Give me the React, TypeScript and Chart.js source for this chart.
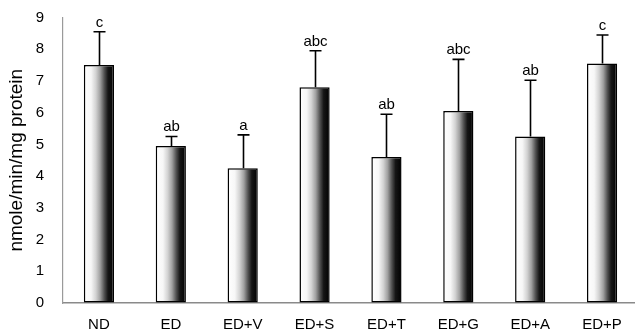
import React, { useEffect, useRef } from "react";
import { Chart, registerables } from "chart.js";

Chart.register(...registerables);

const categories = ["ND", "ED", "ED+V", "ED+S", "ED+T", "ED+G", "ED+A", "ED+P"];
const means = [7.5, 4.95, 4.25, 6.8, 4.6, 6.05, 5.25, 7.55];
const errorTops = [8.55, 5.25, 5.3, 7.95, 5.95, 7.68, 7.02, 8.45];
const groupLetters = ["c", "ab", "a", "abc", "ab", "abc", "ab", "c"];
const yTicks = [0, 1, 2, 3, 4, 5, 6, 7, 8, 9];

const FONT = "'Liberation Sans', Arial, Helvetica, sans-serif";
const BAR_FRACTION = 0.42;

// Upper error whiskers and the significance letters above them
const whiskerPlugin = {
  id: "whiskers",
  afterDatasetsDraw(chart: any) {
    const { ctx, scales } = chart;
    const meta = chart.getDatasetMeta(0);
    ctx.save();
    ctx.strokeStyle = "#000";
    ctx.fillStyle = "#000";
    ctx.lineWidth = 1.6;
    ctx.font = `15px ${FONT}`;
    ctx.textAlign = "center";
    ctx.textBaseline = "alphabetic";
    meta.data.forEach((bar: any, i: number) => {
      const x = Math.round(bar.x) + 0.5;
      const yBar = scales.y.getPixelForValue(means[i]);
      const yTop = scales.y.getPixelForValue(errorTops[i]);
      ctx.beginPath();
      ctx.moveTo(x, yBar);
      ctx.lineTo(x, yTop);
      ctx.moveTo(x - 6, yTop);
      ctx.lineTo(x + 6, yTop);
      ctx.stroke();
      ctx.fillText(groupLetters[i], x, yTop - 5);
    });
    ctx.restore();
  },
};

// Horizontal white-to-black shading across each bar
function barFill(context: any) {
  const chart = context.chart;
  const xScale = chart.scales?.x;
  if (!xScale || context.dataIndex === undefined) return "#888";
  const cx = xScale.getPixelForValue(context.dataIndex);
  const half = (xScale.width / categories.length) * BAR_FRACTION / 2;
  if (!Number.isFinite(cx) || !Number.isFinite(half) || half <= 0) return "#888";
  const g = chart.ctx.createLinearGradient(cx - half, 0, cx + half, 0);
  g.addColorStop(0, "#ffffff");
  g.addColorStop(0.24, "#f7f7f7");
  g.addColorStop(0.4, "#d2d2d2");
  g.addColorStop(0.54, "#a0a0a0");
  g.addColorStop(0.68, "#505050");
  g.addColorStop(0.8, "#161616");
  g.addColorStop(1, "#000000");
  return g;
}

export default function App() {
  const canvasRef = useRef<HTMLCanvasElement | null>(null);

  useEffect(() => {
    document.body.style.margin = "0";
    document.body.style.overflow = "hidden";
    const canvas = canvasRef.current;
    if (!canvas) return;
    const chart = new Chart(canvas, {
      type: "bar",
      data: {
        labels: categories,
        datasets: [
          {
            data: means,
            backgroundColor: barFill,
            borderColor: "#000",
            borderWidth: 1.5,
            borderSkipped: false,
            barPercentage: BAR_FRACTION,
            categoryPercentage: 1,
          },
        ],
      },
      options: {
        responsive: false,
        animation: false,
        devicePixelRatio: 1,
        layout: { padding: { top: 17.5, right: 2, left: 0, bottom: 0 } },
        plugins: {
          legend: { display: false },
          tooltip: { enabled: false },
        },
        scales: {
          x: {
            grid: { display: false, drawTicks: false },
            border: { display: true, color: "#8a8a8a", width: 1.5 },
            ticks: {
              color: "#000",
              padding: 13,
              font: { family: FONT, size: 15 },
            },
            afterFit(scale: any) {
              scale.height = 32;
            },
          },
          y: {
            min: 0,
            max: 9,
            afterBuildTicks(scale: any) {
              scale.ticks = yTicks.map((v) => ({ value: v }));
            },
            grid: {
              display: true,
              drawOnChartArea: false,
              drawTicks: true,
              tickLength: 19,
              color: "rgba(0,0,0,0)",
            },
            border: { display: true, color: "#9a9a9a", width: 1.2, dash: [1, 1] },
            ticks: {
              color: "#000",
              padding: 0,
              font: { family: FONT, size: 15 },
            },
            title: {
              display: true,
              text: "nmole/min/mg protein",
              color: "#000",
              font: { family: FONT, size: 19 },
              padding: { top: 5, bottom: 0 },
            },
            afterFit(scale: any) {
              scale.width = 63;
            },
          },
        },
      },
      plugins: [whiskerPlugin],
    });
    return () => chart.destroy();
  }, []);

  return (
    <div style={{ position: "absolute", left: 0, top: 0, width: 635, height: 335, overflow: "hidden", background: "#fff" }}>
      <canvas ref={canvasRef} width={640} height={335} style={{ display: "block" }} />
    </div>
  );
}
